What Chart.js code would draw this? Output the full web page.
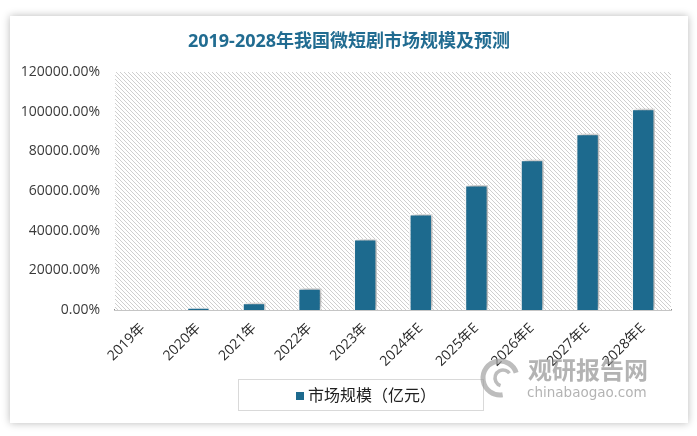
<!DOCTYPE html>
<html>
<head>
<meta charset="utf-8">
<script src="https://cdn.jsdelivr.net/npm/chart.js@4/dist/chart.umd.min.js"></script>
<style>
  html, body { margin: 0; padding: 0; background: #fff; }
  body { width: 697px; height: 436px; position: relative; overflow: hidden; }
  .card {
    position: absolute; left: 10px; top: 16px; width: 678px; height: 407px;
    background: #fff; box-shadow: 0 0 8px rgba(0,0,0,0.28);
  }
  #chart { position: absolute; left: 0; top: 0; }
</style>
</head>
<body>
<div class="card"></div>
<canvas id="chart" width="697" height="436"></canvas>
<script>
// chart data
const titleText = '2019-2028年我国微短剧市场规模及预测';
const categories = ['2019年', '2020年', '2021年', '2022年', '2023年', '2024年E', '2025年E', '2026年E', '2027年E', '2028年E'];
const seriesName = '市场规模（亿元）';
const marketSize = [0, 1160, 3700, 10970, 35750, 48400, 63060, 75700, 88850, 101500];
const yMax = 120000;
const yStep = 20000;

const barColor = '#1d6a8e';
const uiFont = '"Open Sans", "Noto Sans CJK SC", sans-serif';

// diagonal hatch for the plot background
function makeHatch() {
    const c = document.createElement('canvas');
    c.width = 4; c.height = 4;
    const g = c.getContext('2d');
    g.fillStyle = '#ffffff';
    g.fillRect(0, 0, 4, 4);
    g.fillStyle = '#cfcfcf';
    for (let i = 0; i < 4; i++) {
        g.fillRect(i, i, 1, 1);
    }
    return g.createPattern(c, 'repeat');
}

const decorPlugin = {
    id: 'decor',
    beforeDatasetsDraw(chart) {
        const { ctx, chartArea } = chart;
        ctx.save();
        ctx.fillStyle = makeHatch();
        ctx.fillRect(chartArea.left, chartArea.top, chartArea.right - chartArea.left, chartArea.bottom - chartArea.top);
        ctx.restore();
    },
    beforeDatasetDraw(chart) {
        const ctx = chart.ctx;
        ctx.save();
        ctx.shadowColor = 'rgba(0,0,0,0.35)';
        ctx.shadowBlur = 6;
        ctx.shadowOffsetX = 3;
        ctx.shadowOffsetY = -1;
    },
    afterDatasetDraw(chart) {
        chart.ctx.restore();
    },
    afterDraw(chart) {
        const ctx = chart.ctx;
        ctx.save();
        // title
        ctx.fillStyle = '#216c91';
        ctx.font = 'bold 18px ' + uiFont;
        ctx.textAlign = 'center';
        ctx.textBaseline = 'middle';
        ctx.fillText(titleText, 349, 42);

        // legend frame + item
        ctx.strokeStyle = '#d9d9d9';
        ctx.lineWidth = 1;
        ctx.strokeRect(238.5, 379.5, 245, 31);
        const ds = chart.data.datasets[0];
        ctx.fillStyle = ds.backgroundColor;
        ctx.fillRect(296, 392, 8, 8);
        ctx.fillStyle = '#202020';
        ctx.font = '16px ' + uiFont;
        ctx.textAlign = 'left';
        ctx.fillText(ds.label, 308, 396);

        // watermark
        ctx.globalAlpha = 0.65;
        ctx.fillStyle = '#8a8a8a';
        ctx.font = 'bold 24px "Noto Sans CJK SC", sans-serif';
        ctx.textAlign = 'left';
        ctx.textBaseline = 'alphabetic';
        ctx.fillText('观研报告网', 528, 379);
        ctx.font = '13.5px "DejaVu Sans", sans-serif';
        ctx.fillText('chinabaogao.com', 527, 397);
        ctx.strokeStyle = '#9a9a9a';
        ctx.lineWidth = 5;
        ctx.beginPath();
        ctx.arc(500, 378, 17, 0.45 * Math.PI, 1.9 * Math.PI);
        ctx.stroke();
        ctx.lineWidth = 3.5;
        ctx.beginPath();
        ctx.arc(503, 378, 8, 0.6 * Math.PI, 1.8 * Math.PI);
        ctx.stroke();
        ctx.restore();
    }
};

new Chart(document.getElementById('chart'), {
    type: 'bar',
    data: {
        labels: categories,
        datasets: [{
            label: seriesName,
            data: marketSize,
            backgroundColor: barColor,
            borderColor: '#ffffff',
            borderWidth: 1.5,
            barPercentage: 0.42,
            categoryPercentage: 1.0
        }]
    },
    options: {
        responsive: false,
        animation: false,
        layout: { padding: { left: 0, right: 26, top: 72, bottom: 26 } },
        plugins: {
            legend: { display: false },
            title: { display: false },
            tooltip: { enabled: false }
        },
        scales: {
            x: {
                grid: { display: false },
                border: { display: true, color: '#8c8c8c', width: 1.5 },
                ticks: {
                    color: '#2a2a2a',
                    font: { size: 14, family: uiFont },
                    minRotation: 45,
                    maxRotation: 45,
                    padding: 2
                },
                afterFit(scale) { scale.height = 100; }
            },
            y: {
                min: 0,
                max: yMax,
                grid: { display: false },
                border: { display: false },
                ticks: {
                    stepSize: yStep,
                    color: '#3a3a3a',
                    font: { size: 14, family: uiFont },
                    padding: 7,
                    callback: v => v.toFixed(2) + '%'
                },
                afterFit(scale) { scale.width = 115; }
            }
        }
    },
    plugins: [decorPlugin]
});
</script>
</body>
</html>
